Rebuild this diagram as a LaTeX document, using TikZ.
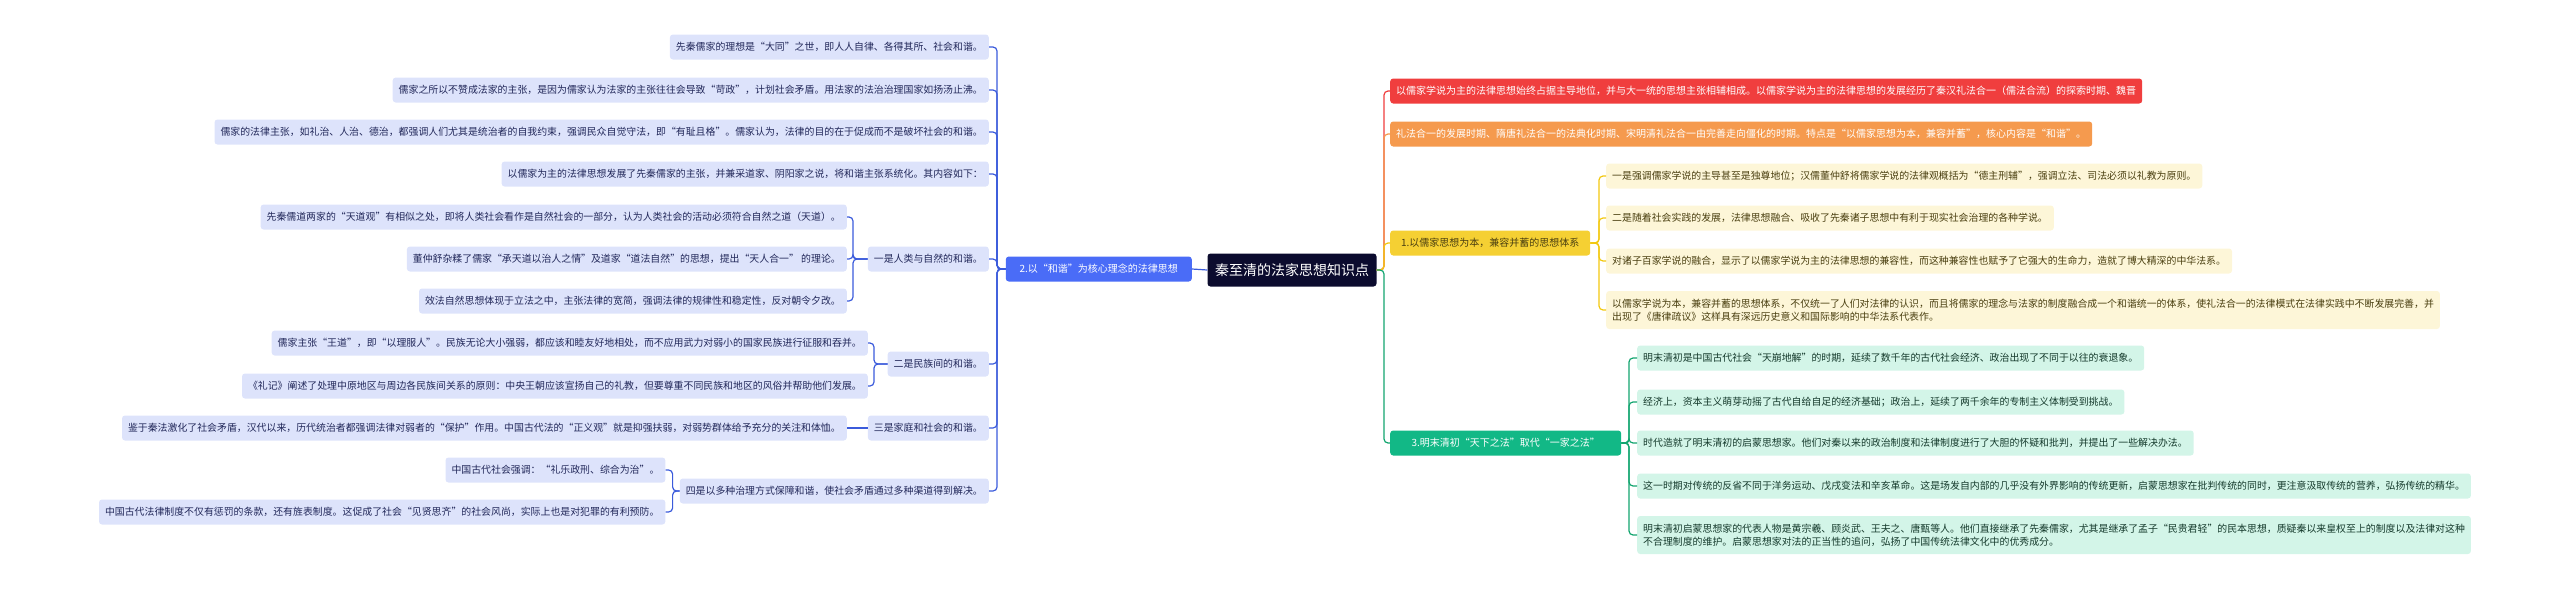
\documentclass[tikz,border=0pt]{standalone}
\usepackage{fontspec}
\setmainfont{Noto Sans CJK SC}
\definecolor{rootc}{HTML}{0B0B2E}
\definecolor{bluec}{HTML}{4A6CF7}
\definecolor{bluel}{HTML}{DDE3FB}
\definecolor{bluet}{HTML}{22285A}
\definecolor{bluee}{HTML}{3B5BDB}
\definecolor{redc}{HTML}{F03E3E}
\definecolor{orac}{HTML}{F59A4E}
\definecolor{yelc}{HTML}{F5D033}
\definecolor{yell}{HTML}{FDF6D8}
\definecolor{yele}{HTML}{F2C80F}
\definecolor{yelt}{HTML}{4A3F10}
\definecolor{grnc}{HTML}{12B886}
\definecolor{grnl}{HTML}{D3F5E8}
\definecolor{grne}{HTML}{12A56F}
\definecolor{grnt}{HTML}{153A2C}
\tikzset{
 box/.style={rounded corners=3pt, inner xsep=6pt, inner ysep=0pt, minimum height=25pt, align=left},
 lf/.style={box, font=\fontsize{9.9}{13}\selectfont},
 bl/.style={lf, fill=bluel, text=bluet, anchor=east},
 yl/.style={lf, fill=yell, text=yelt, anchor=west},
 gl/.style={lf, fill=grnl, text=grnt, anchor=west},
 br/.style={box, font=\fontsize{10}{13}\selectfont},
 ed/.style={line width=1.2pt, rounded corners=4pt},
}
\begin{document}
\begin{tikzpicture}[x=1pt,y=-1pt]
\useasboundingbox (0,0) rectangle (2560,590);
% root
\node[box, fill=rootc, text=white, font=\fontsize{14}{16}\selectfont, minimum height=33pt, minimum width=169pt] (root) at (1292,270) {秦至清的法家思想知识点};
% left branch
\node[br, fill=bluec, text=white, anchor=east, minimum width=186pt] (b2) at (1192,269) {2.以“和谐”为核心理念的法律思想};
\draw[ed, bluee] (root.west) -- (b2.east);
\node[bl] (l1) at (989,47) {先秦儒家的理想是“大同”之世，即人人自律、各得其所、社会和谐。};
\node[bl] (l2) at (989,90) {儒家之所以不赞成法家的主张，是因为儒家认为法家的主张往往会导致“苛政”，计划社会矛盾。用法家的法治治理国家如扬汤止沸。};
\node[bl] (l3) at (989,132) {儒家的法律主张，如礼治、人治、德治，都强调人们尤其是统治者的自我约束，强调民众自觉守法，即“有耻且格”。儒家认为，法律的目的在于促成而不是破坏社会的和谐。};
\node[bl] (l4) at (989,174) {以儒家为主的法律思想发展了先秦儒家的主张，并兼采道家、阴阳家之说，将和谐主张系统化。其内容如下：};
\node[bl] (l5) at (989,259) {一是人类与自然的和谐。};
\node[bl] (l6) at (989,364) {二是民族间的和谐。};
\node[bl] (l7) at (989,428) {三是家庭和社会的和谐。};
\node[bl] (l8) at (989,491) {四是以多种治理方式保障和谐，使社会矛盾通过多种渠道得到解决。};
\foreach \n in {l1,l2,l3,l4,l5,l6,l7,l8}
  \draw[ed, bluee] (b2.west) -- (997,269) |- (\n.east);
\node[bl] (l51) at (847,217) {先秦儒道两家的“天道观”有相似之处，即将人类社会看作是自然社会的一部分，认为人类社会的活动必须符合自然之道（天道）。};
\node[bl] (l52) at (847,259) {董仲舒杂糅了儒家“承天道以治人之情”及道家“道法自然”的思想，提出“天人合一” 的理论。};
\node[bl] (l53) at (847,301) {效法自然思想体现于立法之中，主张法律的宽简，强调法律的规律性和稳定性，反对朝令夕改。};
\foreach \n in {l51,l52,l53}
  \draw[ed, bluee] (l5.west) -- (853,259) |- (\n.east);
\node[bl] (l61) at (868,343) {儒家主张“王道”，即“以理服人”。民族无论大小强弱，都应该和睦友好地相处，而不应用武力对弱小的国家民族进行征服和吞并。};
\node[bl] (l62) at (868,386) {《礼记》阐述了处理中原地区与周边各民族间关系的原则：中央王朝应该宣扬自己的礼教，但要尊重不同民族和地区的风俗并帮助他们发展。};
\foreach \n in {l61,l62}
  \draw[ed, bluee] (l6.west) -- (874,364) |- (\n.east);
\node[bl] (l71) at (847,428) {鉴于秦法激化了社会矛盾，汉代以来，历代统治者都强调法律对弱者的“保护”作用。中国古代法的“正义观”就是抑强扶弱，对弱势群体给予充分的关注和体恤。};
\draw[ed, bluee] (l7.west) -- (l71.east);
\node[bl] (l81) at (l8.west) [xshift=-14pt, yshift=21pt] {中国古代社会强调：“礼乐政刑、综合为治”。};
\node[bl] (l82) at (l8.west) [xshift=-14pt, yshift=-21pt] {中国古代法律制度不仅有惩罚的条款，还有旌表制度。这促成了社会“见贤思齐”的社会风尚，实际上也是对犯罪的有利预防。};
\coordinate (k8) at ([xshift=-7pt]l8.west);
\foreach \n in {l81,l82}
  \draw[ed, bluee] (l8.west) -- (k8) |- (\n.east);
% right side
\coordinate (rk) at (1384,270);
\node[br, fill=redc, text=white, anchor=west] (r1) at (1390,91) {以儒家学说为主的法律思想始终占据主导地位，并与大一统的思想主张相辅相成。以儒家学说为主的法律思想的发展经历了秦汉礼法合一（儒法合流）的探索时期、魏晋};
\node[br, fill=orac, text=white, anchor=west] (r2) at (1390,134) {礼法合一的发展时期、隋唐礼法合一的法典化时期、宋明清礼法合一由完善走向僵化的时期。特点是“以儒家思想为本，兼容并蓄”，核心内容是“和谐”。};
\node[br, fill=yelc, text=yelt, anchor=west, minimum width=200pt] (r3) at (1390,243) {1.以儒家思想为本，兼容并蓄的思想体系};
\node[br, fill=grnc, text=white, anchor=west, minimum width=231pt] (r4) at (1390,443) {3.明末清初“天下之法”取代“一家之法”};
\draw[ed, redc] (root.east) -- (rk) |- (r1.west);
\draw[ed, orac] (root.east) -- (rk) |- (r2.west);
\draw[ed, yele] (root.east) -- (rk) |- (r3.west);
\draw[ed, grne] (root.east) -- (rk) |- (r4.west);
\node[yl] (y1) at (1606,176) {一是强调儒家学说的主导甚至是独尊地位；汉儒董仲舒将儒家学说的法律观概括为“德主刑辅”，强调立法、司法必须以礼教为原则。};
\node[yl] (y2) at (1606,218) {二是随着社会实践的发展，法律思想融合、吸收了先秦诸子思想中有利于现实社会治理的各种学说。};
\node[yl] (y3) at (1606,261) {对诸子百家学说的融合，显示了以儒家学说为主的法律思想的兼容性，而这种兼容性也赋予了它强大的生命力，造就了博大精深的中华法系。};
\node[yl, minimum height=38pt] (y4) at (1606,310) {以儒家学说为本，兼容并蓄的思想体系，不仅统一了人们对法律的认识，而且将儒家的理念与法家的制度融合成一个和谐统一的体系，使礼法合一的法律模式在法律实践中不断发展完善，并\\出现了《唐律疏议》这样具有深远历史意义和国际影响的中华法系代表作。};
\foreach \n in {y1,y2,y3,y4}
  \draw[ed, yele] (r3.east) -- (1599,243) |- (\n.west);
\node[gl] (g1) at (1637,358) {明末清初是中国古代社会“天崩地解”的时期，延续了数千年的古代社会经济、政治出现了不同于以往的衰退象。};
\node[gl] (g2) at (1637,402) {经济上，资本主义萌芽动摇了古代自给自足的经济基础；政治上，延续了两千余年的专制主义体制受到挑战。};
\node[gl] (g3) at (1637,443) {时代造就了明末清初的启蒙思想家。他们对秦以来的政治制度和法律制度进行了大胆的怀疑和批判，并提出了一些解决办法。};
\node[gl] (g4) at (1637,486) {这一时期对传统的反省不同于洋务运动、戊戌变法和辛亥革命。这是场发自内部的几乎没有外界影响的传统更新，启蒙思想家在批判传统的同时，更注意汲取传统的营养，弘扬传统的精华。};
\node[gl, minimum height=38pt] (g5) at (1637,535) {明末清初启蒙思想家的代表人物是黄宗羲、顾炎武、王夫之、唐甄等人。他们直接继承了先秦儒家，尤其是继承了孟子“民贵君轻”的民本思想，质疑秦以来皇权至上的制度以及法律对这种\\不合理制度的维护。启蒙思想家对法的正当性的追问，弘扬了中国传统法律文化中的优秀成分。};
\foreach \n in {g1,g2,g3,g4,g5}
  \draw[ed, grne] (r4.east) -- (1629,443) |- (\n.west);
\end{tikzpicture}
\end{document}
